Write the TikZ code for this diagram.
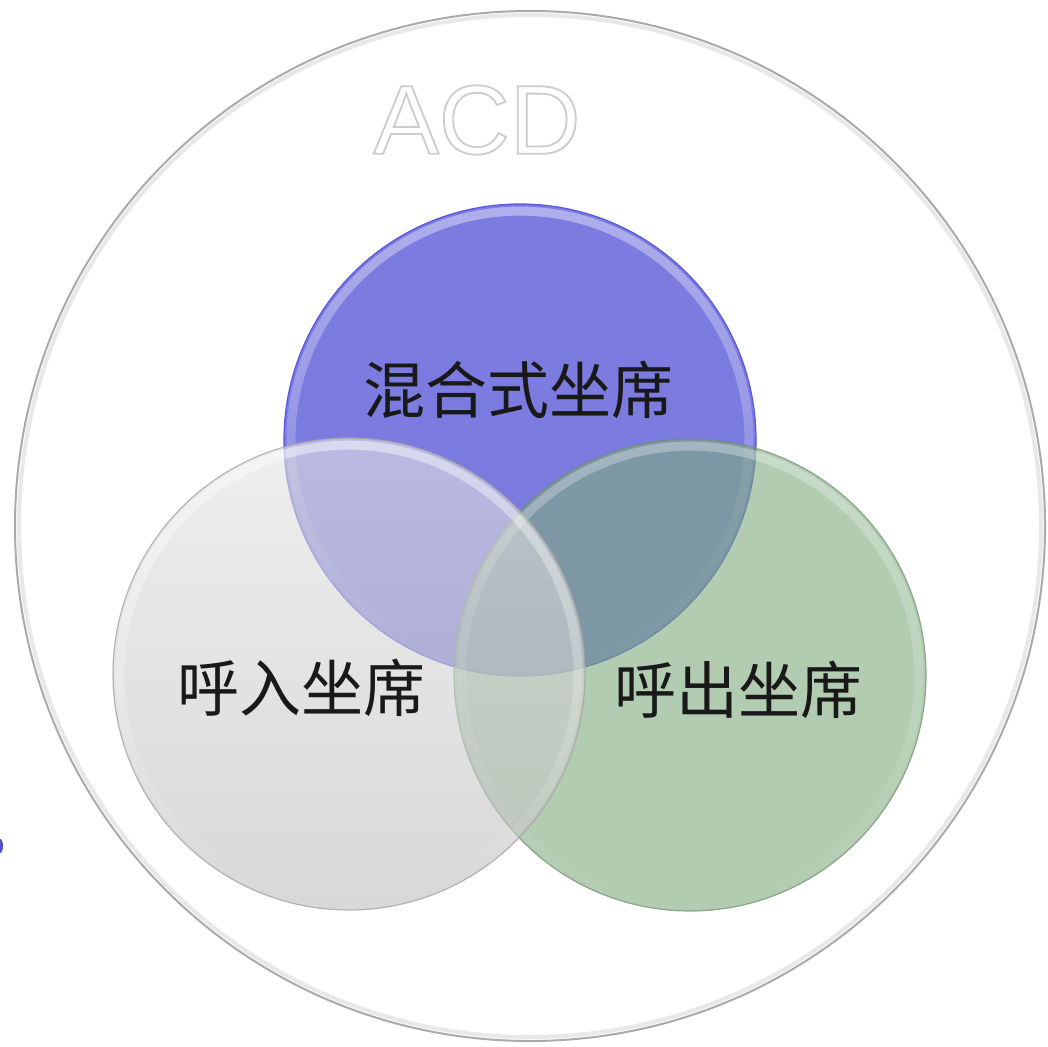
\documentclass[tikz,border=0pt]{standalone}
\usepackage{fontspec}
\usetikzlibrary{fadings}
\setmainfont{Liberation Sans}
\newfontfamily\cjk{Noto Sans CJK SC}
\definecolor{bluefill}{RGB}{123,123,224}
\definecolor{blueedge}{RGB}{88,88,222}
\definecolor{greenfill}{RGB}{127,170,127}
\definecolor{greenedge}{RGB}{110,140,110}
\definecolor{graytop}{RGB}{228,228,228}
\definecolor{graybot}{RGB}{190,190,190}
\definecolor{grayedge}{RGB}{165,165,165}
\definecolor{outeredge}{RGB}{170,170,170}
\definecolor{dotblue}{RGB}{80,80,200}
\newcommand{\outlinetext}[1]{\special{pdf:literal direct 2 Tr 0.8 0.8 0.8 RG 1.8 w}#1\special{pdf:literal direct 0 Tr}}
\tikzset{
  venn/.style={circle, inner sep=0pt, minimum size=472pt},
  label cjk/.style={font=\cjk\fontsize{62}{62}\selectfont, text=black!90, inner sep=0pt},
  acdfont/.style={font=\fontsize{98}{98}\selectfont, inner sep=0pt},
  glow/.style={white, line width=9pt, path fading=south}
}
\begin{document}
\begin{tikzpicture}[x=1pt,y=-1pt]
\useasboundingbox (0,0) rectangle (1048,1046);
\fill[white] (0,0) rectangle (1048,1046);
% stray dot on left edge
\fill[dotblue] (0,846) ellipse [x radius=3, y radius=7];
% outer circle
\node[circle, inner sep=0pt, minimum size=1030pt, draw=outeredge, line width=2pt] (outer) at (530,526) {};
\draw[black!9, line width=4pt] (outer.center) circle [radius=511];
% ACD outlined text
\node[acdfont, text=white] (acd) at (477,120) {\outlinetext{ACD}};
% blue circle
\node[venn, fill=bluefill, draw=blueedge, line width=1.2pt] (blue) at (520,440) {};
\draw[glow, opacity=0.4] (blue.center) circle [radius=229];
% green circle
\node[venn, fill=greenfill, fill opacity=0.6, draw=greenedge, draw opacity=0.7, line width=1.2pt] (green) at (690,675) {};
\draw[glow, opacity=0.3] (green.center) circle [radius=229];
% gray circle
\node[venn, top color=graytop, bottom color=graybot, fill opacity=0.6, draw=grayedge, draw opacity=0.8, line width=1.2pt] (gray) at (349,674) {};
\draw[glow, opacity=0.45] (gray.center) circle [radius=229];
% labels
\node[label cjk] (tmix) at (518,390) {混合式坐席};
\node[label cjk] (tin) at (301,688) {呼入坐席};
\node[label cjk] (tout) at (738,690) {呼出坐席};
\end{tikzpicture}
\end{document}
